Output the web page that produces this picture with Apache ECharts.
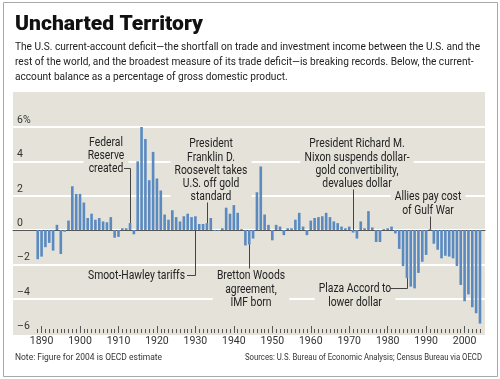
<!DOCTYPE html>
<html><head><meta charset="utf-8">
<script src="https://cdn.jsdelivr.net/npm/echarts@6/dist/echarts.min.js"></script>
<style>html,body{margin:0;padding:0;background:#fff}#c{width:500px;height:379px}</style>
</head><body><div id="c"></div>
<script>
// ---- data ----
const startYear = 1889;
const balance = [
  -1.7, -1.55, -1.0, -0.75, -1.2, 0.3, -1.4, -0.1, 0.55, 2.55,      // 1889-1898
  2.1, 2.1, 1.6, 0.7, 0.95, 0.6, 0.7, 0.5, 0.45, 0.75,              // 1899-1908
  -0.45, -0.4, 0.1, 0.1, 0.4, -0.25, 4.0, 6.05, 5.3, 2.9,           // 1909-1918
  4.55, 3.0, 2.3, 0.9, 0.6, 1.15, 0.75, 0.5, 0.8, 0.95,             // 1919-1928
  0.75, 0.8, 0.35, 0.35, 0.4, 0.7, -0.05, -0.05, 0.1, 1.3,          // 1929-1938
  0.95, 1.45, 1.0, 0.05, -0.9, -0.85, -0.5, 2.2, 3.7, 0.9,          // 1939-1948
  0.3, -0.6, 0.3, 0.2, -0.3, 0.1, 0.1, 0.6, 1.0, 0.2,               // 1949-1958
  -0.3, 0.55, 0.7, 0.75, 0.8, 1.0, 0.75, 0.5, 0.4, 0.2,             // 1959-1968
  0.1, 0.2, -0.15, -0.5, 0.5, 0.1, 1.1, 0.15, -0.7, -0.7,           // 1969-1978
  0.05, 0.1, 0.2, -0.2, -1.1, -2.1, -2.8, -3.3, -3.4, -2.5,         // 1979-1988
  -1.85, -1.45, 0.05, -0.8, -1.15, -1.65, -1.5, -1.55, -1.65, -2.1, // 1989-1998
  -3.2, -4.15, -3.75, -4.5, -4.85, -5.45                            // 1999-2004
];
const years = balance.map((v, i) => String(startYear + i));
const decadeLabels = ['1890','1900','1910','1920','1930','1940','1950','1960','1970','1980','1990','2000'];
const yTicks = [-6, -4, -2, 0, 2, 4, 6];

const titleText = 'Uncharted Territory';
const subtitleLines = [
  'The U.S. current-account deficit\u2014the shortfall on trade and investment income between the U.S. and the',
  'rest of the world, and the broadest measure of its trade deficit\u2014is breaking records. Below, the current-',
  'account balance as a percentage of gross domestic product.'
];
const noteText = 'Note: Figure for 2004 is OECD estimate';
const sourceText = 'Sources: U.S. Bureau of Economic Analysis; Census Bureau via OECD';

const annotations = [
  {lines:['Federal','Reserve','created'], year:'1913', from:'above', cx:106, top:135, leader:[[124,168],['bar',168],['bar','bar']]},
  {lines:['President','Franklin D.','Roosevelt takes','U.S. off gold','standard'], year:'1933', from:'above', cx:211, top:136.5, leader:[['bar',202],['bar','bar']]},
  {lines:['Smoot-Hawley tariffs'], year:'1930', from:'below', cx:136.5, top:268.5, leader:[[187,275],['bar',275],['bar','bar']]},
  {lines:['Bretton Woods','agreement,','IMF born'], year:'1944', from:'below', cx:251, top:268.5, leader:[['bar','bar'],['bar',268]]},
  {lines:['President Richard M.','Nixon suspends dollar-','gold convertibility,','devalues dollar'], year:'1971', from:'above', cx:357, top:136.5, leader:[['bar',189],['bar','bar']]},
  {lines:['Allies pay cost','of Gulf War'], year:'1991', from:'above', cx:428, top:189.5, leader:[['bar',216],['bar','bar']]},
  {lines:['Plaza Accord to','lower dollar'], year:'1985', from:'below', cx:355, top:281.5, leader:[[390,288],['bar',288],['bar','bar']]}
];

// ---- style ----
const BG = '#e4e2d9';
const BAR = '#5b8ac1';
const TXT = '#222';
const STACK = "'Liberation Sans Narrow', Roboto, sans-serif";

const mctx = document.createElement('canvas').getContext('2d');
function fit(text, font, target) { mctx.font = font; return target / mctx.measureText(text).width; }

const chart = echarts.init(document.getElementById('c'), null, {renderer: 'canvas'});

chart.setOption({
  animation: false,
  backgroundColor: '#fff',
  grid: [
    {left: 13, right: 15, top: 127, bottom: 46},
    {left: 35.8, right: 18.1, top: 127, bottom: 46}
  ],
  xAxis: [
    {gridIndex: 0, type: 'value', min: 0, max: 1, axisLine: {show: true, onZero: true, lineStyle: {color: '#555', width: 1}},
      axisTick: {show: false}, axisLabel: {show: false}, splitLine: {show: false}},
    {gridIndex: 1, type: 'category', data: years, position: 'bottom',
      axisLine: {show: false, onZero: false},
      axisTick: {show: true, inside: true, length: 4, interval: 0, alignWithLabel: true, lineStyle: {color: '#555', width: 1}},
      axisLabel: {show: true, interval: (i, v) => decadeLabels.indexOf(v) >= 0, margin: 3,
        fontSize: 10.5, fontFamily: STACK, color: '#333'},
      splitLine: {show: false}},
    {gridIndex: 1, type: 'category', data: years, position: 'bottom',
      axisLine: {show: false, onZero: false},
      axisTick: {show: true, inside: true, length: 7, alignWithLabel: true,
        interval: (i, v) => decadeLabels.indexOf(v) >= 0, lineStyle: {color: '#555', width: 1}},
      axisLabel: {show: false}, splitLine: {show: false}}
  ],
  yAxis: [
    {gridIndex: 0, type: 'value', min: yTicks[0], max: yTicks[yTicks.length - 1], interval: 2,
      axisLine: {show: false}, axisTick: {show: false},
      axisLabel: {inside: true, margin: 4, verticalAlign: 'bottom', padding: [0, 0, 1, 0],
        fontSize: 10.5, fontFamily: STACK, color: '#333',
        formatter: v => v === 6 ? '6%' : (v < 0 ? '\u2013' + Math.abs(v) : String(v))},
      splitLine: {show: true, showMinLine: false, lineStyle: {color: '#fff', width: 2}}},
    {gridIndex: 1, type: 'value', min: yTicks[0], max: yTicks[yTicks.length - 1], interval: 2, show: false,
      splitLine: {show: false}}
  ],
  series: [{
    type: 'bar', xAxisIndex: 1, yAxisIndex: 1, data: balance, barWidth: '68%',
    itemStyle: {color: BAR}, z: 3, silent: true
  }]
});

// ---- graphics: background, texts, annotations ----
const g = [];
g.push({type: 'rect', z: -10, shape: {x: 13, y: 92, width: 472, height: 243}, style: {fill: BG}});
g.push({type: 'rect', z: 20, shape: {x: 3.5, y: 2.5, width: 494, height: 374}, style: {fill: null, stroke: '#a8a8a8', lineWidth: 1}});

const titleFont = "900 21px Roboto, sans-serif";
g.push({type: 'text', x: 15, y: 25, scaleX: fit(titleText, titleFont, 188), z: 10,
  style: {text: titleText, x: 0, y: 0, font: titleFont, fill: '#111', align: 'left', verticalAlign: 'middle'}});

const subFont = "11.5px " + STACK;
const subScale = fit(subtitleLines[0], subFont, 465);
const subY = [46.7, 61.7, 76.7];
subtitleLines.forEach((t, i) => g.push({type: 'text', x: 15, y: subY[i], scaleX: subScale, z: 10,
  style: {text: t, x: 0, y: 0, font: subFont, fill: TXT, align: 'left', verticalAlign: 'middle'}}));

const footFont = "9.5px " + STACK;
g.push({type: 'text', x: 15, y: 358, scaleX: fit(noteText, footFont, 147), z: 10,
  style: {text: noteText, x: 0, y: 0, font: footFont, fill: '#333', align: 'left', verticalAlign: 'middle'}});
g.push({type: 'text', x: 482, y: 358, scaleX: fit(sourceText, footFont, 237), z: 10,
  style: {text: sourceText, x: 0, y: 0, font: footFont, fill: '#333', align: 'right', verticalAlign: 'middle'}});

const annFont = "12.5px " + STACK;
const annScale = fit('Smoot-Hawley tariffs', annFont, 97);
annotations.forEach(a => {
  g.push({type: 'text', x: a.cx, y: a.top, scaleX: annScale, z: 8,
    style: {text: a.lines.join('\n'), x: 0, y: 0, font: annFont, fill: TXT, align: 'center', verticalAlign: 'top',
      lineHeight: 13.3, backgroundColor: BG, padding: [1, 5]}});
  const idx = years.indexOf(a.year);
  const v = balance[idx];
  const anchorVal = a.from === 'above' ? Math.max(v, 0) : Math.min(v, 0);
  const p = chart.convertToPixel({xAxisIndex: 1, yAxisIndex: 1}, [a.year, anchorVal]);
  const bx = Math.round(p[0]) + 0.5;
  const pts = a.leader.map(pt => [pt[0] === 'bar' ? bx : pt[0], pt[1] === 'bar' ? p[1] : pt[1] + 0.5]);
  g.push({type: 'polyline', z: 9, shape: {points: pts}, style: {stroke: '#444', lineWidth: 1, fill: null}});
});

chart.setOption({graphic: g});
</script>
</body></html>
